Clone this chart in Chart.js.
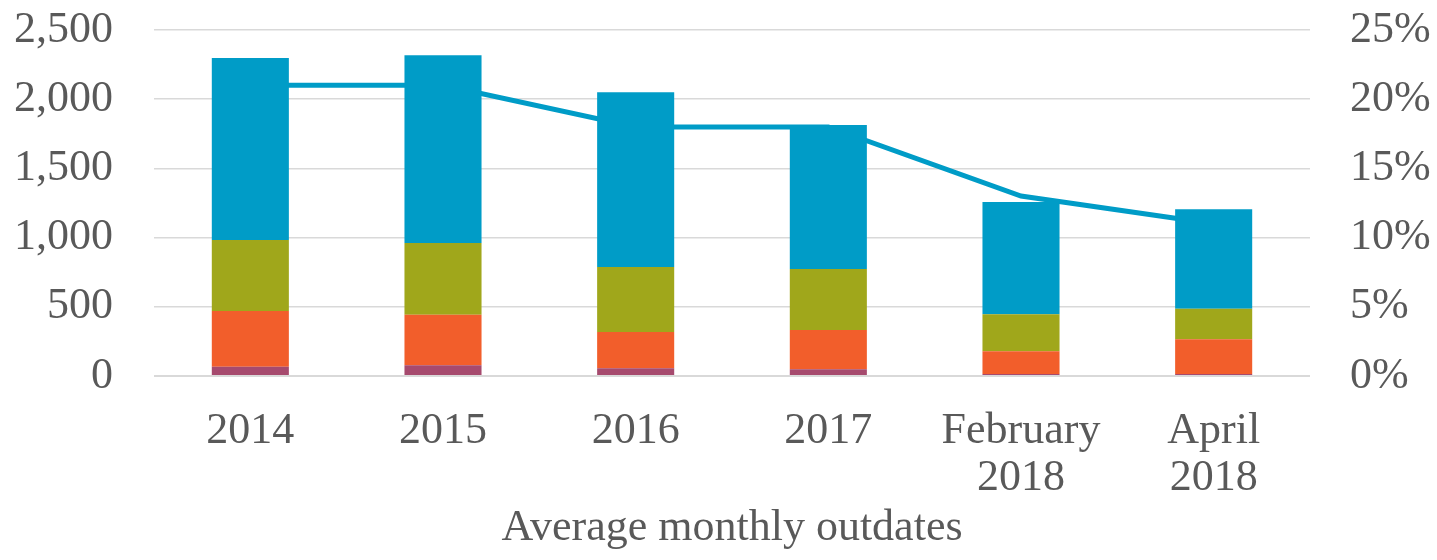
<!DOCTYPE html>
<html>
<head>
<meta charset="utf-8">
<script src="https://cdn.jsdelivr.net/npm/chart.js@4/dist/chart.umd.min.js"></script>
<style>
  html, body { margin: 0; padding: 0; background: #fff; }
  #wrap { width: 1437px; height: 560px; position: relative; }
</style>
</head>
<body>
<div id="wrap"><canvas id="c" width="1437" height="560"></canvas></div>
<script>
const categories = [["2014"], ["2015"], ["2016"], ["2017"], ["February", "2018"], ["April", "2018"]];
const seriesPurple = [67, 77, 56, 48, 15, 15];
const seriesOrange = [403, 366, 262, 284, 163, 250];
const seriesGreen  = [513, 518, 470, 441, 268, 221];
const seriesBlue   = [1315, 1356, 1262, 1040, 811, 718];
const linePercent  = [21, 21, 18, 18, 13, 11];
const leftTicks = [0, 500, 1000, 1500, 2000, 2500];
const rightTicks = [0, 5, 10, 15, 20, 25];
const xTitle = "Average monthly outdates";

const FONT = "'Liberation Serif', serif";
const TXT = "#595959";
const GRID = "#D9D9D9";

function bar(data, color) {
  return { type: 'bar', data, backgroundColor: color, borderWidth: 0,
           yAxisID: 'y', order: 1, barPercentage: 0.4, categoryPercentage: 1.0 };
}

function zeroPad(s) { s.paddingTop = 0; s.paddingBottom = 0; s.paddingLeft = 0; s.paddingRight = 0; }

new Chart(document.getElementById('c'), {
  data: {
    labels: categories,
    datasets: [
      bar(seriesPurple, '#A64A6E'),
      bar(seriesOrange, '#F25E2B'),
      bar(seriesGreen,  '#A0A71B'),
      bar(seriesBlue,   '#009CC7'),
      { type: 'line', data: linePercent, yAxisID: 'y1', borderColor: '#009CC7',
        borderWidth: 5, pointRadius: 0, tension: 0, fill: false, order: 5 }
    ]
  },
  options: {
    responsive: false,
    animation: false,
    layout: { padding: { top: 30, bottom: 0, left: 0, right: 0 } },
    plugins: { legend: { display: false }, tooltip: { enabled: false } },
    scales: {
      x: {
        stacked: true,
        grid: { display: false, drawTicks: false },
        border: { display: false },
        ticks: { color: TXT, font: { family: FONT, size: 44, lineHeight: 1.07 }, padding: 32, maxRotation: 0, autoSkip: false },
        title: { display: true, text: xTitle, color: TXT,
                 font: { family: FONT, size: 44, lineHeight: 1.2 }, padding: { top: 0, bottom: 5 } },
        afterFit(s) { s.height = 184; zeroPad(s); }
      },
      y: {
        stacked: true, position: 'left', min: 0, max: 2500,
        afterBuildTicks(s) { s.ticks = leftTicks.map(v => ({ value: v })); },
        grid: { color: GRID, lineWidth: (ctx) => ctx.tick && ctx.tick.value === 0 ? 2 : 1.5, drawTicks: false },
        border: { display: false },
        ticks: { color: TXT, font: { family: FONT, size: 44 }, padding: 41,
                 callback: (v) => v.toLocaleString('en-US') },
        afterFit(s) { s.width = 154; zeroPad(s); }
      },
      y1: {
        position: 'right', min: 0, max: 25,
        afterBuildTicks(s) { s.ticks = rightTicks.map(v => ({ value: v })); },
        grid: { display: false, drawTicks: false },
        border: { display: false },
        ticks: { color: TXT, font: { family: FONT, size: 44 }, padding: 40,
                 callback: (v) => v + '%' },
        afterFit(s) { s.width = 127; zeroPad(s); }
      }
    }
  }
});
</script>
</body>
</html>
